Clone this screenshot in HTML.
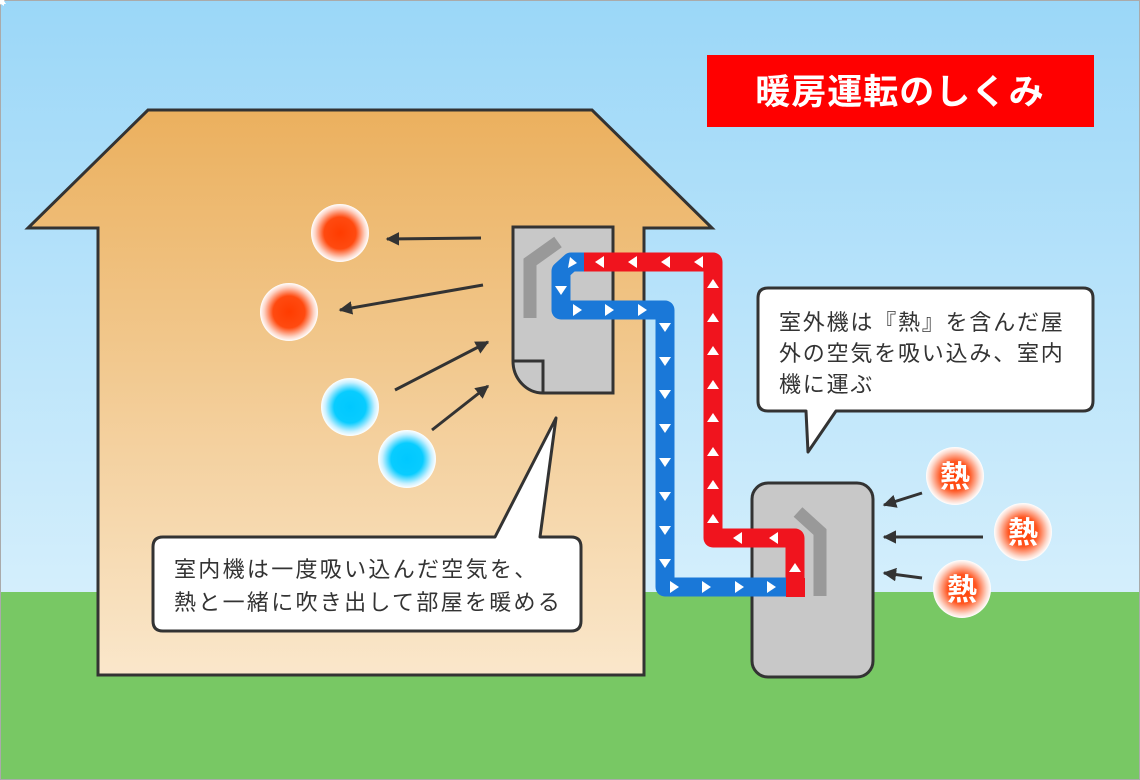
<!DOCTYPE html>
<html><head><meta charset="utf-8"><style>
html,body{margin:0;padding:0;width:1140px;height:780px;overflow:hidden;}
svg{display:block;}
text{font-family:"Liberation Sans","Noto Sans CJK JP",sans-serif;}
</style></head><body>
<svg width="1140" height="780" viewBox="0 0 1140 780" xmlns="http://www.w3.org/2000/svg">
<defs>
<linearGradient id="sky" x1="0" y1="0" x2="0" y2="1"><stop offset="0" stop-color="#9bd7f8"/><stop offset="1" stop-color="#e6f6fd"/></linearGradient>
<linearGradient id="house" x1="0" y1="0" x2="0" y2="1"><stop offset="0" stop-color="#ebb05e"/><stop offset="1" stop-color="#fae7cb"/></linearGradient>
<radialGradient id="rc"><stop offset="0" stop-color="#ff3c00"/><stop offset="0.55" stop-color="#ff4a10"/><stop offset="0.85" stop-color="#fdd0c0"/><stop offset="1" stop-color="#ffffff"/></radialGradient>
<radialGradient id="bc"><stop offset="0" stop-color="#00c8ff"/><stop offset="0.55" stop-color="#08ccff"/><stop offset="0.85" stop-color="#c8f0ff"/><stop offset="1" stop-color="#ffffff"/></radialGradient>
<radialGradient id="hc"><stop offset="0" stop-color="#ff3c00"/><stop offset="0.5" stop-color="#ff5520"/><stop offset="0.85" stop-color="#fdd6c8"/><stop offset="1" stop-color="#ffffff"/></radialGradient>
<marker id="ah" viewBox="0 0 10 10" refX="9" refY="5" markerWidth="4.5" markerHeight="4.5" orient="auto"><path d="M0,0L10,5L0,10z" fill="#333"/></marker>
</defs>
<rect width="1140" height="780" fill="url(#sky)"/>
<rect y="592" width="1140" height="188" fill="#78c864"/>
<rect x="0.5" y="0.5" width="1139" height="779" fill="none" stroke="#aaa" stroke-width="1"/>

<path d="M148,110 L592,110 L712,228 L644,228 L644,675 L98,675 L98,228 L28,228 Z" fill="url(#house)" stroke="#333" stroke-width="3" stroke-linejoin="miter"/>

<rect x="707" y="55" width="387" height="72" fill="#ff0000"/>
<text x="900" y="104" text-anchor="middle" font-size="35" font-weight="bold" fill="#fff" letter-spacing="1">暖房運転のしくみ</text>

<path d="M513,227 L613,227 L613,393 L543,393 A30,32 0 0 1 513,361 Z" fill="#c8c8c8" stroke="#333" stroke-width="3"/>
<path d="M513,361 L543,361 L543,393" fill="none" stroke="#333" stroke-width="3"/>
<path d="M530,318 L530,262 L558,242" fill="none" stroke="#999" stroke-width="13"/>

<rect x="752" y="483" width="121" height="194" rx="16" fill="#c8c8c8" stroke="#333" stroke-width="3"/>
<path d="M798,512 L820,532 L820,596" fill="none" stroke="#999" stroke-width="13"/>

<path d="M665,587 L794,587" stroke="#1a78d8" stroke-width="19" fill="none"/>
<path d="M583,262 L713,262 L713,538 L795,538 L795,592" stroke="#f0141e" stroke-width="19" fill="none" stroke-linejoin="round"/>
<path d="M584,262 L571,262 L561,271 L561,310 L665,310 L665,587 L786,587" stroke="#1a78d8" stroke-width="19" fill="none" stroke-linejoin="round"/>
<path d="M786,578 L805,578 L805,597 L786,597 Z" fill="#f0141e"/>

<g fill="#fff">
<g id="tl"><path d="M-5,0 L4,-6 L4,6 Z"/></g>
<use href="#tl" x="600" y="262"/><use href="#tl" x="633" y="262"/><use href="#tl" x="666" y="262"/><use href="#tl" x="699" y="262"/>
<use href="#tl" x="738" y="538"/><use href="#tl" x="774" y="538"/>
<g id="tu"><path d="M0,-5 L-6,4 L6,4 Z"/></g>
<use href="#tu" x="713" y="284"/><use href="#tu" x="713" y="318"/><use href="#tu" x="713" y="351"/><use href="#tu" x="713" y="385"/><use href="#tu" x="713" y="418"/><use href="#tu" x="713" y="452"/><use href="#tu" x="713" y="485"/><use href="#tu" x="713" y="519"/>
<use href="#tu" x="795" y="568"/>
<g id="td"><path d="M0,5 L-6,-4 L6,-4 Z"/></g>
<use href="#td" x="561" y="290"/>
<use href="#td" x="665" y="327"/><use href="#td" x="665" y="361"/><use href="#td" x="665" y="394"/><use href="#td" x="665" y="428"/><use href="#td" x="665" y="462"/><use href="#td" x="665" y="496"/><use href="#td" x="665" y="530"/><use href="#td" x="665" y="563"/>
<g id="tr"><path d="M5,0 L-4,-6 L-4,6 Z"/></g>
<use href="#tr" x="577" y="310"/><use href="#tr" x="609" y="310"/><use href="#tr" x="642" y="310"/>
<use href="#tr" x="674" y="587"/><use href="#tr" x="706" y="587"/><use href="#tr" x="739" y="587"/><use href="#tr" x="771" y="587"/>
<path d="M577,263 L568,268 L570,257 Z"/>
</g>

<circle cx="340" cy="233" r="29" fill="url(#rc)"/>
<circle cx="289" cy="312" r="29" fill="url(#rc)"/>
<circle cx="350" cy="407" r="29" fill="url(#bc)"/>
<circle cx="407" cy="459" r="29" fill="url(#bc)"/>
<g stroke="#333" stroke-width="3" fill="none" marker-end="url(#ah)">
<line x1="481" y1="238" x2="387" y2="239"/>
<line x1="483" y1="285" x2="340" y2="310"/>
<line x1="395" y1="390" x2="488" y2="342"/>
<line x1="432" y1="430" x2="488" y2="386"/>
<line x1="922" y1="493" x2="884" y2="505"/>
<line x1="983" y1="537" x2="884" y2="537"/>
<line x1="922" y1="578" x2="884" y2="573"/>
</g>

<g font-size="30" font-weight="bold" fill="#fff" text-anchor="middle">
<circle cx="955" cy="476" r="29" fill="url(#hc)"/><text x="955" y="487">熱</text>
<circle cx="1023" cy="532" r="29" fill="url(#hc)"/><text x="1023" y="543">熱</text>
<circle cx="962" cy="589" r="29" fill="url(#hc)"/><text x="962" y="600">熱</text>
</g>

<path d="M163,537 L495,537 L556,418 L540,537 L571,537 Q581,537 581,547 L581,621 Q581,631 571,631 L163,631 Q153,631 153,621 L153,547 Q153,537 163,537 Z" fill="#fff" stroke="#333" stroke-width="3" stroke-linejoin="round"/>
<text x="174" y="577" font-size="22" fill="#333" letter-spacing="2.3">室内機は一度吸い込んだ空気を、</text>
<text x="174" y="610" font-size="22" fill="#333" letter-spacing="2.3">熱と一緒に吹き出して部屋を暖める</text>

<path d="M768,288 L1083,288 Q1093,288 1093,298 L1093,401 Q1093,411 1083,411 L836,411 L808,452 L806,411 L768,411 Q758,411 758,401 L758,298 Q758,288 768,288 Z" fill="#fff" stroke="#333" stroke-width="3" stroke-linejoin="round"/>
<text x="779" y="330" font-size="22" fill="#333" letter-spacing="1.8">室外機は『熱』を含んだ屋</text>
<text x="779" y="361" font-size="22" fill="#333" letter-spacing="1.8">外の空気を吸い込み、室内</text>
<text x="779" y="392" font-size="22" fill="#333" letter-spacing="1.8">機に運ぶ</text>
</svg>
</body></html>
